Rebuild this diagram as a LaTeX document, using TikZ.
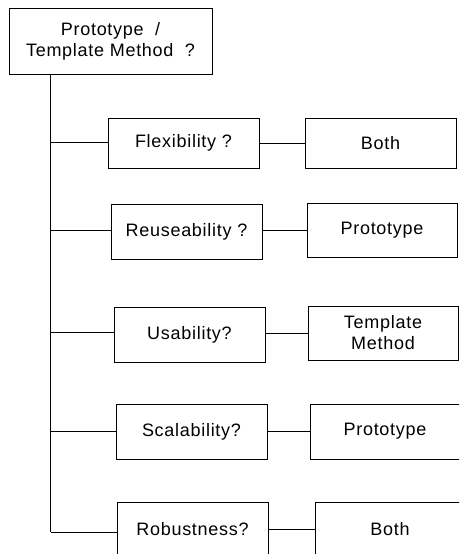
\documentclass[tikz,border=0pt]{standalone}
\usepackage{fontspec}
\setmainfont{Liberation Sans}[LetterSpace=4]

\begin{document}
\begin{tikzpicture}[x=1pt, y=-1pt, font=\fontsize{18}{21}\selectfont,
  box/.style={draw, line width=0.9pt, inner sep=0pt, align=center,
    minimum width=151, minimum height=55},
  link/.style={line width=0.9pt}]
  \useasboundingbox (0,0) rectangle (459,554);
  \clip (0,0) rectangle (459,554);
  % --- Spoergsmaal ---
  \node[box, minimum width=203, minimum height=66] (q) at (110.5,41)
    {Prototype~~/\\Template Method~~?};
  \coordinate (trunk) at (50.7,532);
  % --- Kriterier ---
  \node[box, minimum height=50] (flex)   at (183.5,143)   {Flexibility ?};
  \node[box] (reuse)  at (186.5,231.5) {Reuseability ?};
  \node[box] (usab)   at (189.5,334.5) {Usability?};
  \node[box] (scal)   at (191.5,431.5) {Scalability?};
  \node[box] (robust) at (192.5,529.5) {Robustness?};
  % --- Svar ---
  \node[box, minimum height=50] (flexans) at (380.5,143) {Both};
  \node[box, minimum width=150, minimum height=54] (reuseans)  at (382,230) {Prototype};
  \node[box, minimum width=150, minimum height=54] (usabans)   at (383,333) {Template\\Method};
  \node[box, minimum width=150] (scalans)   at (385,431.5) {Prototype};
  \node[box, minimum width=150] (robustans) at (390,529.5) {Both};
  % --- Forbindelser ---
  \draw[link] (q.south -| trunk) -- (trunk);
  \draw[link] (trunk |- 0,142) -- (flex.west |- 0,142);
  \draw[link] (trunk |- 0,230) -- (reuse.west |- 0,230);
  \draw[link] (trunk |- 0,332) -- (usab.west |- 0,332);
  \draw[link] (trunk |- 0,431) -- (scal.west |- 0,431);
  \draw[link] (trunk) -- (robust.west |- trunk);
  \draw[link] (flex.east)   -- (flexans.west);
  \draw[link] (reuse.east |- reuseans) -- (reuseans.west);
  \draw[link] (usab.east |- usabans)   -- (usabans.west);
  \draw[link] (scal.east)   -- (scalans.west);
  \draw[link] (robust.east) -- (robustans.west);
\end{tikzpicture}
\end{document}
